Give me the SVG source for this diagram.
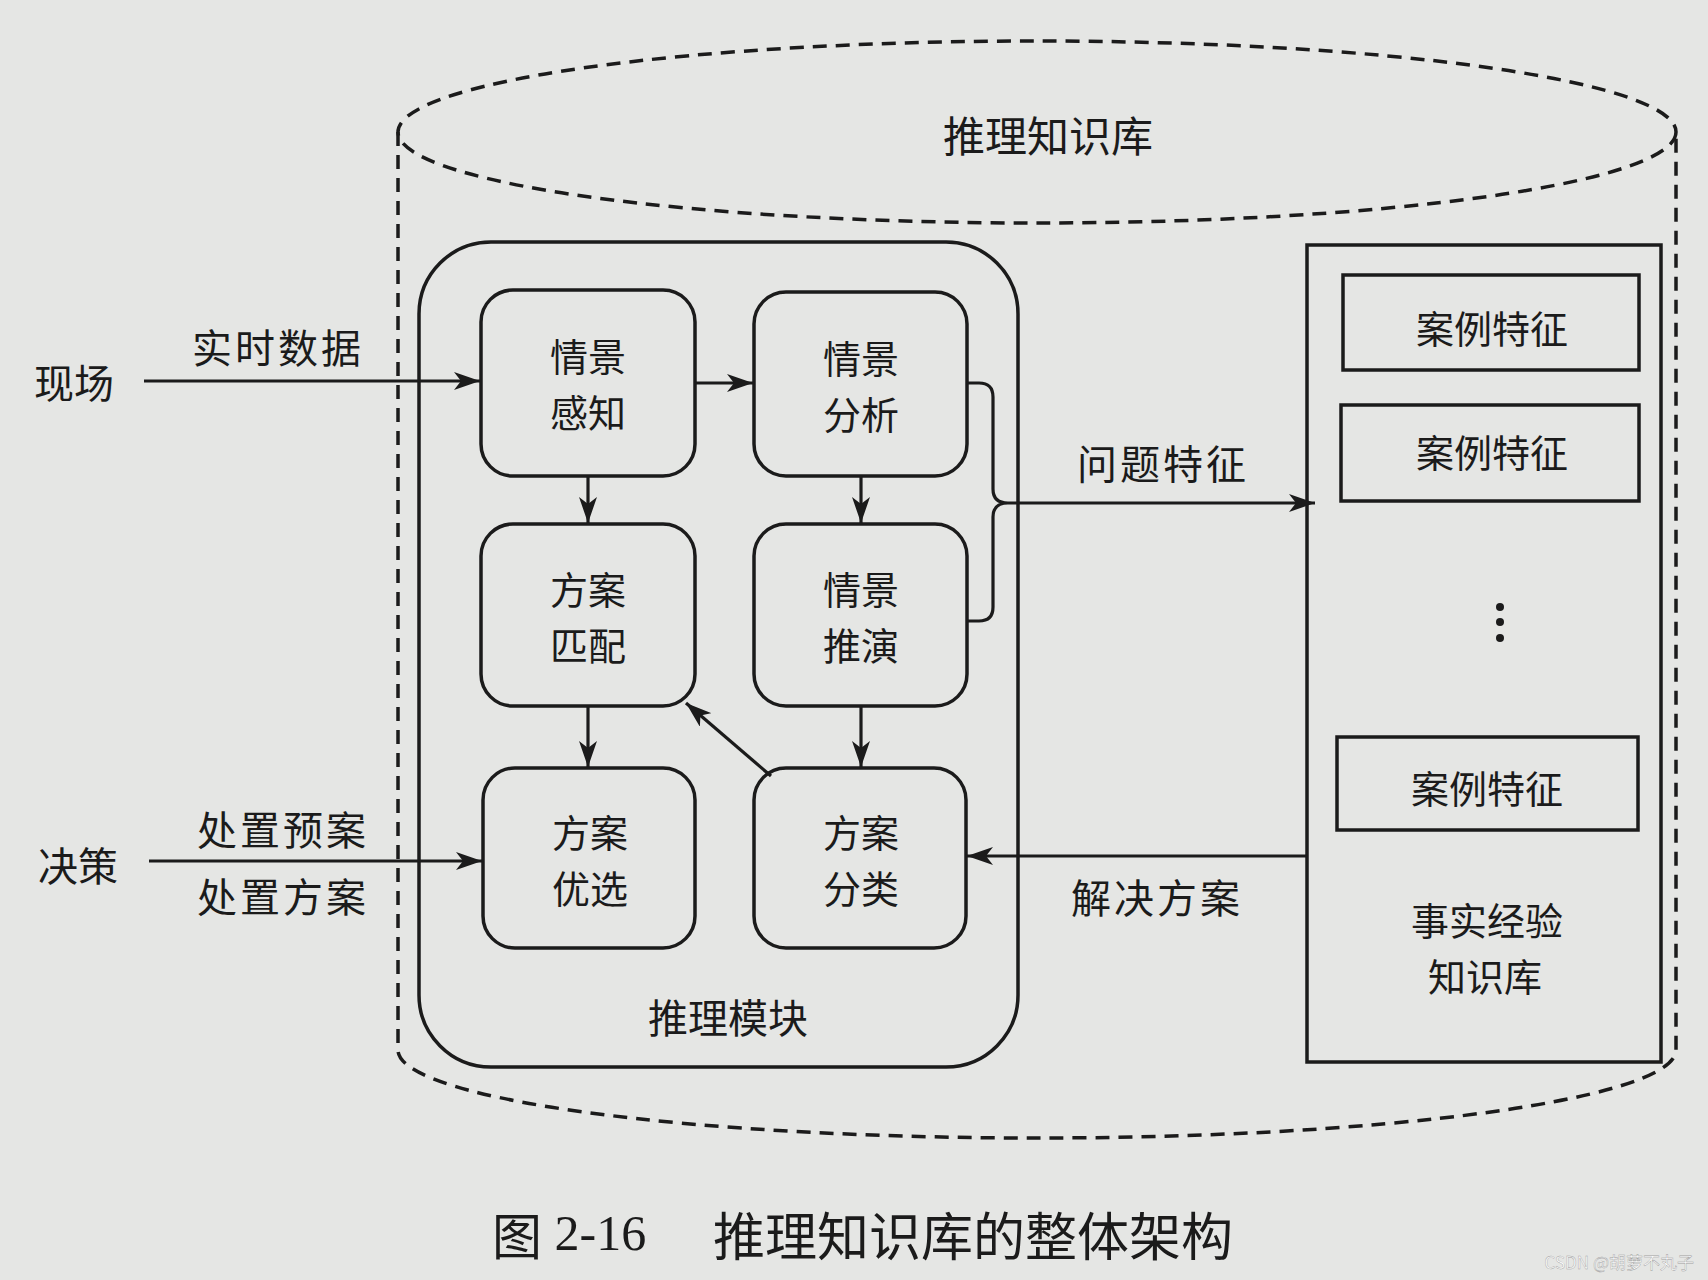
<svg xmlns="http://www.w3.org/2000/svg" width="1708" height="1280" viewBox="0 0 1708 1280">
<defs>
<style>
.t{font-family:"Noto Sans CJK SC","Noto Sans",sans-serif;fill:#1b1b1b;text-anchor:middle;dominant-baseline:central}
.b{font-size:38px}
.l{font-size:40px;letter-spacing:3px}
.box{fill:none;stroke:#1b1b1b;stroke-width:3.5}
.dash{fill:none;stroke:#1b1b1b;stroke-width:3.5;stroke-dasharray:14 9}
.ln{fill:none;stroke:#1b1b1b;stroke-width:3.2}
</style>
<marker id="ah" viewBox="0 0 26 18" refX="26" refY="9" markerWidth="26" markerHeight="18" markerUnits="userSpaceOnUse" orient="auto">
<path d="M0,0 L26,9 L0,18 L7,9 Z" fill="#1b1b1b"/>
</marker>
</defs>
<rect width="1708" height="1280" fill="#e5e6e4"/>

<g id="cylinder">
<ellipse class="dash" cx="1037" cy="132" rx="639" ry="91"/>
<path class="dash" d="M398,132 V1050 A639,88 0 0 0 1676,1050 V132"/>
<text class="t" x="1048" y="133" font-size="42">推理知识库</text>
</g>

<g id="module">
<rect class="box" x="419" y="242" width="599" height="825" rx="72"/>
<text class="t" x="728" y="1016" font-size="40">推理模块</text>
</g>

<g id="n1"><rect class="box" x="481" y="290" width="214" height="186" rx="32"/>
<text class="t b" x="588" y="354">情景</text><text class="t b" x="588" y="410">感知</text></g>
<g id="n2"><rect class="box" x="754" y="292" width="213" height="184" rx="32"/>
<text class="t b" x="861" y="356">情景</text><text class="t b" x="861" y="412">分析</text></g>
<g id="n3"><rect class="box" x="481" y="524" width="214" height="182" rx="32"/>
<text class="t b" x="588" y="587">方案</text><text class="t b" x="588" y="643">匹配</text></g>
<g id="n4"><rect class="box" x="754" y="524" width="213" height="182" rx="32"/>
<text class="t b" x="861" y="587">情景</text><text class="t b" x="861" y="643">推演</text></g>
<g id="n5"><rect class="box" x="483" y="768" width="212" height="180" rx="32"/>
<text class="t b" x="590" y="830">方案</text><text class="t b" x="590" y="886">优选</text></g>
<g id="n6"><rect class="box" x="754" y="768" width="212" height="180" rx="32"/>
<text class="t b" x="861" y="830">方案</text><text class="t b" x="861" y="886">分类</text></g>

<g id="casebase">
<rect class="box" x="1307" y="245" width="354" height="817"/>
<rect class="box" x="1343" y="275" width="296" height="95"/>
<text class="t b" x="1492" y="326">案例特征</text>
<rect class="box" x="1341" y="405" width="298" height="96"/>
<text class="t b" x="1492" y="450">案例特征</text>
<rect class="box" x="1337" y="737" width="301" height="93"/>
<text class="t b" x="1487" y="786">案例特征</text>
<circle cx="1500" cy="607" r="4" fill="#1b1b1b"/>
<circle cx="1500" cy="622" r="4" fill="#1b1b1b"/>
<circle cx="1500" cy="638" r="4" fill="#1b1b1b"/>
<text class="t b" x="1487" y="918">事实经验</text>
<text class="t b" x="1485" y="974">知识库</text>
</g>

<g id="ext">
<text class="t" x="74" y="381" font-size="40">现场</text>
<text class="t" x="78" y="864" font-size="40">决策</text>
</g>

<g id="connectors">
<path class="ln" d="M144,381 H480" marker-end="url(#ah)"/>
<text class="t l" x="278" y="346">实时数据</text>
<path class="ln" d="M149,861 H482" marker-end="url(#ah)"/>
<text class="t l" x="283" y="828">处置预案</text>
<text class="t l" x="283" y="895">处置方案</text>
<path class="ln" d="M695,383 H753" marker-end="url(#ah)"/>
<path class="ln" d="M588,476 V523" marker-end="url(#ah)"/>
<path class="ln" d="M861,476 V523" marker-end="url(#ah)"/>
<path class="ln" d="M588,706 V767" marker-end="url(#ah)"/>
<path class="ln" d="M861,706 V767" marker-end="url(#ah)"/>
<path class="ln" d="M771,776 L686,703" marker-end="url(#ah)"/>
<path class="ln" d="M967,383 H979 Q993,383 993,397 V489 Q993,503 1008,503 M967,621 H979 Q993,621 993,607 V517 Q993,503 1008,503 H1315" marker-end="url(#ah)"/>
<text class="t l" x="1163" y="462">问题特征</text>
<path class="ln" d="M1307,856 H967" marker-end="url(#ah)"/>
<text class="t l" x="1157" y="896">解决方案</text>
</g>

<g id="caption">
<text x="492" y="1233" font-size="50" fill="#1b1b1b" dominant-baseline="central" font-family="'Liberation Serif','Noto Sans CJK SC',serif"><tspan font-family="'Noto Sans CJK SC',sans-serif">图</tspan> 2-16</text>
<text x="713" y="1233" font-size="52" fill="#1b1b1b" dominant-baseline="central" font-family="'Noto Sans CJK SC',sans-serif">推理知识库的整体架构</text>
<text x="1694" y="1261" font-size="17" fill="#ffffff" stroke="#9a9a9a" stroke-width="0.4" text-anchor="end" dominant-baseline="central" font-family="'Noto Sans CJK SC',sans-serif">CSDN @胡萝不丸子</text>
</g>
</svg>
